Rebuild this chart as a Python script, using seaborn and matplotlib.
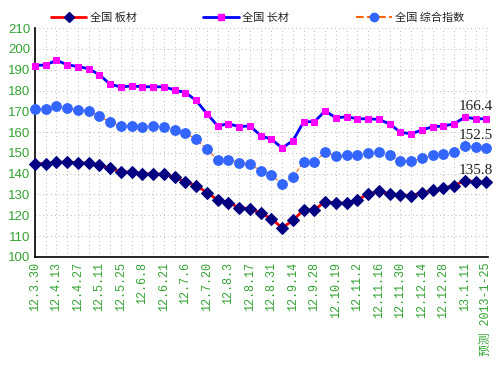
import matplotlib
matplotlib.use("Agg")
import matplotlib.pyplot as plt
from matplotlib.lines import Line2D
import seaborn as sns
import pandas as pd

# weekly dates, 12.3.30 .. 2013-1-25
DATES = ["12.3.30", "12.4.6", "12.4.13", "12.4.20", "12.4.27", "12.5.4", "12.5.11",
         "12.5.18", "12.5.25", "12.6.1", "12.6.8", "12.6.15", "12.6.21", "12.6.29",
         "12.7.6", "12.7.13", "12.7.20", "12.7.27", "12.8.3", "12.8.10", "12.8.17",
         "12.8.24", "12.8.31", "12.9.7", "12.9.14", "12.9.21", "12.9.28", "12.10.12",
         "12.10.19", "12.10.26", "12.11.2", "12.11.9", "12.11.16", "12.11.23",
         "12.11.30", "12.12.7", "12.12.14", "12.12.21", "12.12.28", "13.1.4",
         "13.1.11", "13.1.18", "预测 2013-1-25"]

# 全国 板材
BANCAI = [144.8, 144.8, 145.5, 145.6, 145.3, 145.0, 144.2, 142.6, 140.8, 140.8,
          140.0, 140.0, 139.7, 138.3, 136.0, 134.3, 130.9, 127.4, 126.1, 123.7,
          123.2, 121.0, 118.4, 113.9, 117.6, 122.6, 122.6, 126.6, 125.9, 125.9,
          127.4, 130.3, 131.6, 130.4, 129.8, 129.5, 130.7, 132.0, 133.1, 134.3,
          136.7, 136.2, 135.8]

# 全国 长材
CHANGCAI = [192.0, 192.3, 194.5, 192.4, 191.5, 190.5, 187.5, 183.0, 181.7, 182.2,
            181.8, 181.8, 181.8, 180.2, 179.0, 175.2, 168.8, 163.0, 164.0, 162.6,
            163.0, 158.3, 156.5, 152.4, 155.9, 165.0, 165.0, 170.2, 166.8, 167.4,
            166.4, 166.4, 166.1, 163.9, 159.9, 159.2, 161.0, 162.6, 162.9, 164.0,
            167.2, 166.4, 166.4]

# 全国 综合指数
ZONGHE = [170.9, 171.2, 172.4, 171.6, 170.6, 170.1, 167.6, 164.7, 163.0, 163.0,
          162.6, 162.8, 162.6, 161.2, 159.7, 156.5, 151.7, 146.6, 146.8, 145.3,
          144.8, 141.3, 139.5, 134.9, 138.4, 145.8, 145.8, 150.3, 148.4, 148.8,
          148.8, 149.9, 150.4, 148.8, 146.3, 146.0, 147.4, 148.8, 149.3, 150.6,
          153.2, 152.8, 152.5]

df = pd.DataFrame({"idx": range(len(DATES)), "板材": BANCAI,
                   "长材": CHANGCAI, "综合": ZONGHE})

sns.set_style("white")
plt.rcParams["font.family"] = ["Noto Sans CJK SC", "DejaVu Sans"]

GREEN = "#33a333"
fig = plt.figure(figsize=(5, 3.75), dpi=100)
ax = fig.add_axes([0.07, 0.315, 0.905, 0.61])

sns.lineplot(data=df, x="idx", y="长材", ax=ax, color="#0000ff", lw=2,
             marker="s", markersize=4.8, markerfacecolor="#ff00ff",
             markeredgecolor="#ff00ff", clip_on=False, zorder=4)
sns.lineplot(data=df, x="idx", y="综合", ax=ax, color="#ff6600", lw=0.8,
             linestyle="--", marker="o", markersize=7,
             markerfacecolor="#3366ff", markeredgecolor="#3366ff",
             clip_on=False, zorder=3)
sns.lineplot(data=df, x="idx", y="板材", ax=ax, color="#ff0000", lw=2,
             marker="D", markersize=6, markerfacecolor="#000080",
             markeredgecolor="#000080", clip_on=False, zorder=3)

# end labels
for v in (CHANGCAI[-1], ZONGHE[-1], BANCAI[-1]):
    ax.annotate(f"{v}", xy=(len(DATES) - 1, v), xytext=(-8, 4),
                textcoords="offset points", ha="center", va="bottom",
                fontsize=11, family=["Liberation Serif"], color="#222222")

ax.set_xlim(0, len(DATES) - 0.9)
ax.set_ylim(100, 210)
ax.set_yticks(range(100, 211, 10))
ax.set_xticks(range(len(DATES)))
ax.set_xticklabels([d if i % 2 == 0 else "" for i, d in enumerate(DATES)],
                   rotation=90, fontsize=8.5, color=GREEN,
                   family=["Liberation Mono", "Noto Sans CJK SC"])
ax.tick_params(axis="y", labelsize=9.5, colors="black", labelcolor=GREEN,
               direction="in", length=4, width=1)
ax.tick_params(axis="x", direction="in", length=4, width=1, pad=4)
for lab in ax.get_yticklabels():
    lab.set_family(["Liberation Sans"])
ax.set_xlabel("")
ax.set_ylabel("")

ax.grid(True, linestyle=(0, (1, 3)), color="#b8b8b8", lw=0.7)
for s in ("top", "right"):
    ax.spines[s].set_visible(False)
for s in ("left", "bottom"):
    ax.spines[s].set_color("black")
    ax.spines[s].set_linewidth(1.2)

handles = [
    Line2D([], [], color="#ff0000", lw=2, marker="D", markersize=5.5,
           markerfacecolor="#000080", markeredgecolor="#000080"),
    Line2D([], [], color="#0000ff", lw=2, marker="s", markersize=5,
           markerfacecolor="#ff00ff", markeredgecolor="#ff00ff"),
    Line2D([], [], color="#ff6600", lw=1.5, linestyle="--", marker="o",
           markersize=6, markerfacecolor="#3366ff", markeredgecolor="#3366ff"),
]
fig.legend(handles, ["全国 板材", "全国 长材", "全国 综合指数"], ncol=3,
           loc="center", bbox_to_anchor=(0.515, 0.952), frameon=False,
           fontsize=8, handlelength=3.2, handletextpad=0.3, columnspacing=6)

fig.savefig("out.png", dpi=100)
plt.close(fig)
